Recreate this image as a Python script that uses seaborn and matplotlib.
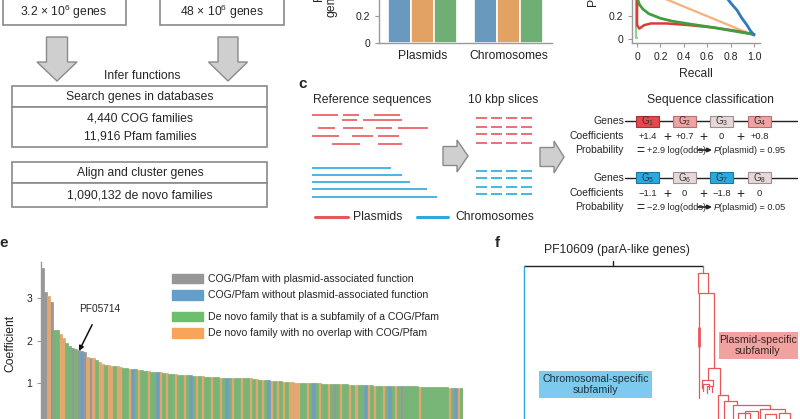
import numpy as np
import pandas as pd
import matplotlib
matplotlib.use("Agg")
import matplotlib.pyplot as plt
import seaborn as sns
from matplotlib.patches import Rectangle, Polygon, Patch

sns.set_theme(style="ticks")
plt.rcParams["font.family"] = ["Liberation Sans", "DejaVu Sans"]
plt.rcParams["mathtext.default"] = "regular"

W, H = 800, 419

# ── data ──────────────────────────────────────────────────────────────────────
# panel b: fraction of genes (bars are cut by the crop)
bar_groups = ["Plasmids", "Chromosomes"]
bar_methods = ["COG/Pfam", "De novo", "Combined"]
bar_values = [[0.68, 0.72, 0.75], [0.58, 0.62, 0.64]]
bar_colors = ["#5b9bcb", "#f7a24f", "#66b96a"]

# panel d: precision-recall curves
pr_blue_recall = [0.74, 0.78, 0.82, 0.855, 0.89, 0.94, 0.97, 1.0]
pr_blue_prec = [0.40, 0.34, 0.29, 0.25, 0.19, 0.12, 0.07, 0.035]
pr_orange_recall = [0.0, 0.003, 0.01, 0.5, 1.0]
pr_orange_prec = [0.28, 0.35, 0.446, 0.24, 0.03]
pr_green_recall = [0.0, 0.02, 0.05, 0.1, 0.2, 0.3, 0.45, 0.65, 0.85, 1.0]
pr_green_prec = [0.36, 0.30, 0.26, 0.22, 0.18, 0.155, 0.13, 0.10, 0.065, 0.04]
pr_red_recall = [0.0, 0.0, 0.02, 0.06, 0.12, 0.25, 0.45, 0.65, 0.85, 1.0]
pr_red_prec = [0.36, 0.12, 0.09, 0.12, 0.135, 0.135, 0.12, 0.10, 0.07, 0.04]
pr_pale_recall = [-0.01, -0.01, 0.0]
pr_pale_prec = [0.36, 0.01, 0.01]

# panel e: sorted coefficients of the top families
e_coef = [3.70, 3.15, 3.05, 2.90, 2.25, 2.24, 2.15, 2.05, 1.95, 1.88,
          1.83, 1.79, 1.77, 1.75, 1.72, 1.62, 1.60, 1.58, 1.55, 1.50,
          1.44, 1.43, 1.42, 1.41, 1.40, 1.39, 1.38, 1.36, 1.35, 1.34,
          1.33, 1.32, 1.31, 1.30, 1.29, 1.28, 1.27, 1.26, 1.26, 1.25,
          1.24, 1.23, 1.22, 1.21, 1.21, 1.20, 1.19, 1.19, 1.18, 1.18,
          1.17, 1.17, 1.16, 1.16, 1.15, 1.15, 1.14, 1.14, 1.14, 1.13,
          1.13, 1.13, 1.12, 1.12, 1.12, 1.12, 1.11, 1.11, 1.11, 1.11,
          1.10, 1.09, 1.08, 1.07, 1.06, 1.06, 1.05, 1.05, 1.04, 1.04,
          1.03, 1.03, 1.02, 1.02, 1.01, 1.01, 1.01, 1.00, 1.00, 1.00,
          0.99, 0.99, 0.99, 0.98, 0.98, 0.98, 0.98, 0.97, 0.97, 0.97,
          0.97, 0.97, 0.96, 0.96, 0.96, 0.96, 0.95, 0.95, 0.95, 0.95,
          0.94, 0.94, 0.94, 0.94, 0.94, 0.93, 0.93, 0.93, 0.93, 0.93,
          0.92, 0.92, 0.92, 0.92, 0.92, 0.91, 0.91, 0.91, 0.91, 0.91,
          0.90, 0.90, 0.90, 0.90, 0.90, 0.89, 0.89, 0.89, 0.89, 0.88]
# g = COG/Pfam plasmid fn, b = COG/Pfam other, n = de novo subfamily, o = de novo new
e_type = ("ggognnoonn" "gngbgogono" "onoonoonno" "bnonnonnbo" "nonnonnonb"
          "nononnonno" "nbnonnonno" "nononbonon" "onoooonnon" "bnonnongno"
          "nnononnbon" "onnonbnong" "nnnnnonnnn" "nnnnnonbon")
e_labels = {
    "g": "COG/Pfam with plasmid-associated function",
    "b": "COG/Pfam without plasmid-associated function",
    "n": "De novo family that is a subfamily of a COG/Pfam",
    "o": "De novo family with no overlap with COG/Pfam",
}
e_colors = {"g": "#979797", "b": "#649fc9", "n": "#6cbf6c", "o": "#f6a55b"}

# panel f: dendrogram links (xl, xr, top, left bottom, right bottom), pixels
f_links = [(698, 708, 273, 293, 293), (699, 714, 293, 398, 368),
           (708, 720, 368, 380, 395), (702, 713, 380, 388, 386),
           (703, 709, 384, 391, 389), (707, 712, 386, 393, 392),
           (718, 728, 395, 419, 401), (724, 737, 401, 419, 405),
           (733, 770, 405, 419, 409), (760, 785, 409, 419, 413),
           (738, 750, 413, 419, 419), (745, 758, 411, 419, 419),
           (765, 776, 414, 419, 419), (779, 790, 413, 419, 419)]

RED = "#e8585a"
BLUE = "#29a9e0"
GREY_FILL = "#cfcfcf"
GREY_EDGE = "#8a8a8a"


def px_axes(fig, x0, y0, x1, y1):
    return fig.add_axes([x0 / W, 1 - y1 / H, (x1 - x0) / W, (y1 - y0) / H])


def style_axis(ax):
    sns.despine(ax=ax)
    for s in ("left", "bottom"):
        ax.spines[s].set_color("#9a9a9a")
        ax.spines[s].set_linewidth(1.0)
    ax.tick_params(colors="#9a9a9a", labelcolor="#222222", labelsize=7.5,
                   length=3, width=0.8)
    ax.set_facecolor("none")


fig = plt.figure(figsize=(W / 100, H / 100), dpi=100)
ov = fig.add_axes([0, 0, 1, 1])
ov.set_xlim(0, W)
ov.set_ylim(H, 0)
ov.axis("off")


def rect(x0, y0, x1, y1, **kw):
    ov.add_patch(Rectangle((x0, y0), x1 - x0, y1 - y0, **kw))


def down_arrow(xc, y0, y1, yh, bw, hw):
    pts = [(xc - bw / 2, y0), (xc + bw / 2, y0), (xc + bw / 2, yh), (xc + hw / 2, yh),
           (xc, y1), (xc - hw / 2, yh), (xc - bw / 2, yh)]
    ov.add_patch(Polygon(pts, closed=True, fc=GREY_FILL, ec=GREY_EDGE, lw=1))


def right_arrow(x0, x1, xh, yc, bh, hh):
    pts = [(x0, yc - bh / 2), (xh, yc - bh / 2), (xh, yc - hh / 2), (x1, yc),
           (xh, yc + hh / 2), (xh, yc + bh / 2), (x0, yc + bh / 2)]
    ov.add_patch(Polygon(pts, closed=True, fc=GREY_FILL, ec=GREY_EDGE, lw=1))


# ── panel a: workflow ─────────────────────────────────────────────────────────
box_kw = dict(fc="white", ec=GREY_EDGE, lw=1.2)
rect(3, -5, 126, 25, **box_kw)
rect(160, -5, 284, 25, **box_kw)
ov.text(64, 12, r"3.2 × 10$^6$ genes", ha="center", va="center", fontsize=8.7)
ov.text(222, 12, r"48 × 10$^6$ genes", ha="center", va="center", fontsize=8.7)
down_arrow(57, 37, 81, 62, 21, 40)
down_arrow(228, 37, 81, 62, 20, 39)
ov.text(142, 76, "Infer functions", ha="center", va="center", fontsize=8.7)
rect(12, 86, 267, 107, **box_kw)
rect(12, 107, 267, 147, **box_kw)
ov.text(140, 97, "Search genes in databases", ha="center", va="center", fontsize=8.7)
ov.text(140, 118, "4,440 COG families", ha="center", va="center", fontsize=8.7)
ov.text(140, 136, "11,916 Pfam families", ha="center", va="center", fontsize=8.7)
rect(12, 162, 267, 183, **box_kw)
rect(12, 183, 267, 207, **box_kw)
ov.text(140, 173, "Align and cluster genes", ha="center", va="center", fontsize=8.7)
ov.text(140, 195, "1,090,132 de novo families", ha="center", va="center", fontsize=8.7)

# ── panel c: schematic ───────────────────────────────────────────────────────
ov.text(303, 84, "c", ha="center", va="center", fontsize=11, fontweight="bold")
ov.text(372, 100, "Reference sequences", ha="center", va="center", fontsize=8.7)
ov.text(503, 100, "10 kbp slices", ha="center", va="center", fontsize=8.7)
plasmid_segs = [(115, 312, 338), (115, 343, 359), (115, 374, 400),
                (120, 342, 357), (120, 363, 402),
                (128, 318, 335), (128, 343, 363), (128, 376, 392), (128, 398, 428),
                (136, 312, 339), (136, 352, 373), (136, 378, 399),
                (144, 332, 360), (144, 378, 402)]
for y, x0, x1 in plasmid_segs:
    ov.plot([x0, x1], [y, y], color=RED, lw=1.2, solid_capstyle="butt")
for y, x1 in [(168, 391), (175, 402), (182, 410), (189, 427), (197, 437)]:
    ov.plot([312, x1], [y, y], color=BLUE, lw=1.2, solid_capstyle="butt")
for y in [118, 127, 134, 143]:
    for x0 in [476, 491, 506, 521]:
        ov.plot([x0, x0 + 11], [y, y], color=RED, lw=1.2, solid_capstyle="butt")
for y in [171, 178, 187, 194]:
    for x0 in [476, 491, 506, 521]:
        ov.plot([x0, x0 + 11], [y, y], color=BLUE, lw=1.2, solid_capstyle="butt")
right_arrow(443, 468, 457, 156, 19, 32)
right_arrow(540, 564, 554, 157, 19, 32)
ov.plot([315, 348], [217, 217], color=RED, lw=2.2)
ov.text(353, 217, "Plasmids", ha="left", va="center", fontsize=8.7)
ov.plot([417, 448], [217, 217], color=BLUE, lw=2.2)
ov.text(455, 217, "Chromosomes", ha="left", va="center", fontsize=8.7)

ov.text(710, 100, "Sequence classification", ha="center", va="center", fontsize=8.7)
gene_x = [636, 673, 710, 748]
rows = [
    dict(y=121, fills=["#e5484d", "#efa3a3", "#e6d8d8", "#efa3a3"],
         edges=["#a83236", "#b87070", "#a09090", "#b87070"], labels=["1", "2", "3", "4"],
         coefs=["+1.4", "+0.7", "0", "+0.8"], odds="+2.9", p="0.95"),
    dict(y=178, fills=["#2aa9e0", "#e6d8d8", "#2aa9e0", "#e6d8d8"],
         edges=["#1b77a0", "#a09090", "#1b77a0", "#a09090"], labels=["5", "6", "7", "8"],
         coefs=["\u22121.1", "0", "\u22121.8", "0"], odds="\u22122.9", p="0.05"),
]
for r in rows:
    y = r["y"]
    ov.text(624, y, "Genes", ha="right", va="center", fontsize=7.5)
    ov.plot([625, 797], [y, y], color="#222222", lw=1.0, zorder=1)
    for x0, fc, ec, lab in zip(gene_x, r["fills"], r["edges"], r["labels"]):
        ov.add_patch(Rectangle((x0, y - 5.5), 23, 11, fc=fc, ec=ec, lw=0.8, zorder=2))
        ov.text(x0 + 11.5, y, "G$_{%s}$" % lab, ha="center", va="center", fontsize=7,
                color="#333333", zorder=3)
    yc = y + 15
    ov.text(624, yc, "Coefficients", ha="right", va="center", fontsize=7.5)
    for x0, c in zip(gene_x, r["coefs"]):
        ov.text(x0 + 11.5, yc, c, ha="center", va="center", fontsize=6.8)
    for xp in [667, 703, 740]:
        ov.text(xp, yc + 1, "+", ha="center", va="center", fontsize=10)
    yp = y + 29
    ov.text(624, yp, "Probability", ha="right", va="center", fontsize=7.5)
    ov.text(640, yp + 1, "=", ha="center", va="center", fontsize=10)
    ov.text(647, yp, r["odds"] + " log(odds)", ha="left", va="center", fontsize=6.6)
    ov.annotate("", xy=(712, yp), xytext=(698, yp),
                arrowprops=dict(arrowstyle="-|>", color="#222222", lw=1.2,
                                mutation_scale=6, shrinkA=0, shrinkB=0))
    ov.text(714, yp, "P", ha="left", va="center", fontsize=6.6, style="italic")
    ov.text(719, yp, "(plasmid) = " + r["p"], ha="left", va="center", fontsize=6.6)

# ── panel f: dendrogram ──────────────────────────────────────────────────────
ov.text(497, 243, "f", ha="center", va="center", fontsize=11, fontweight="bold")
ov.text(617, 250, "PF10609 (parA-like genes)", ha="center", va="center", fontsize=8.7)
ov.plot([524, 703], [266, 266], color="#222222", lw=1.0)
ov.plot([613, 613], [261, 266], color="#222222", lw=1.0)
ov.plot([524, 524], [266, 420], color=BLUE, lw=1.0)
ov.plot([703, 703], [266, 273], color=RED, lw=0.9)
for xl, xr, top, bl, br in f_links:
    ov.plot([xl, xl, xr, xr], [bl, top, top, br], color=RED, lw=0.9)
ov.plot([698.5, 698.5], [328, 346], color=RED, lw=2.0)
rect(719, 332, 798, 359, fc="#f2a1a1", ec="none")
ov.text(758, 345.5, "Plasmid-specific\nsubfamily", ha="center", va="center",
        fontsize=7.7, color="#3a2323", linespacing=1.1)
rect(539, 371, 652, 398, fc="#7ccbee", ec="none")
ov.text(595.5, 384.5, "Chromosomal-specific\nsubfamily", ha="center", va="center",
        fontsize=7.7, color="#1d3140", linespacing=1.1)

# ── panel b: bar chart ───────────────────────────────────────────────────────
df_b = pd.DataFrame([(g, m, v) for g, vals in zip(bar_groups, bar_values)
                     for m, v in zip(bar_methods, vals)],
                    columns=["group", "method", "value"])
ax_b = px_axes(fig, 379, 0, 552, 43)
sns.barplot(data=df_b, x="group", y="value", hue="method", order=bar_groups,
            hue_order=bar_methods, palette=bar_colors, width=0.8,
            edgecolor="white", linewidth=1.2, legend=False, ax=ax_b)
ax_b.set_ylim(0, 43 / 135)
ax_b.set_yticks([0, 0.2])
ax_b.set_yticklabels(["0", "0.2"])
ax_b.set_xlabel("")
ax_b.set_ylabel("")
style_axis(ax_b)
ax_b.tick_params(axis="x", length=0, labelsize=8.7, pad=5)
ov.text(331, 17, "genes", rotation=90, ha="center", va="bottom", fontsize=8.7)
ov.text(320, 2, "Fraction of", rotation=90, ha="center", va="bottom", fontsize=8.7)

# ── panel d: precision-recall ────────────────────────────────────────────────
ax_d = px_axes(fig, 632, 0, 760, 43)
ax_d.plot(pr_orange_recall, pr_orange_prec, color="#f5b27a", lw=1.6)
ax_d.plot(pr_pale_recall, pr_pale_prec, color="#8fd18f", lw=1.6)
ax_d.plot(pr_red_recall, pr_red_prec, color="#dd3b3b", lw=1.8)
ax_d.plot(pr_green_recall, pr_green_prec, color="#3f9f3f", lw=2.0)
ax_d.plot(pr_blue_recall, pr_blue_prec, color="#2c7bbd", lw=2.0)
ax_d.set_xlim(-0.043, 1.051)
ax_d.set_ylim(-0.035, 0.339)
ax_d.set_xticks([0, 0.2, 0.4, 0.6, 0.8, 1.0])
ax_d.set_xticklabels(["0", "0.2", "0.4", "0.6", "0.8", "1.0"])
ax_d.set_yticks([0, 0.2])
ax_d.set_yticklabels(["0", "0.2"])
style_axis(ax_d)
ax_d.set_xlabel("Recall", fontsize=8.7, labelpad=4)
ov.text(593, 6, "Precision", rotation=90, ha="center", va="bottom", fontsize=8.7)

# ── panel e: coefficients ────────────────────────────────────────────────────
df_e = pd.DataFrame({"rank": np.arange(len(e_coef)), "coef": e_coef,
                     "type": [e_labels[c] for c in e_type]})
ax_e = px_axes(fig, 41, 262, 463, 425.5)
sns.barplot(data=df_e, x="rank", y="coef", hue="type",
            palette={e_labels[k]: v for k, v in e_colors.items()},
            dodge=False, width=1.0, linewidth=0, legend=False, ax=ax_e)
for p in ax_e.patches:
    p.set_edgecolor(p.get_facecolor())
    p.set_linewidth(0.5)
ax_e.set_ylim(0, 3.85)
ax_e.set_yticks([1, 2, 3])
ax_e.set_xticks([])
ax_e.set_xlabel("")
style_axis(ax_e)
ax_e.set_ylabel("Coefficient", fontsize=8.7, color="#222222", labelpad=7)
ov.text(4, 243, "e", ha="center", va="center", fontsize=11, fontweight="bold")
ax_e.annotate("PF05714", xy=(79 / W, 1 - 351 / H), xycoords="figure fraction",
              xytext=(100 / W, 1 - 309 / H), textcoords="figure fraction",
              ha="center", va="center", fontsize=7.3,
              arrowprops=dict(arrowstyle="-|>", color="#111111", lw=1.1,
                              mutation_scale=7, shrinkA=6, shrinkB=0))
leg_kw = dict(loc="upper left", bbox_transform=fig.transFigure, frameon=False,
              fontsize=7.6, handlelength=2.9, handleheight=1.0, labelspacing=0.55,
              handletextpad=0.5, borderpad=0, borderaxespad=0)
leg1 = ax_e.legend(handles=[Patch(color=e_colors[k], label=e_labels[k]) for k in "gb"],
                   bbox_to_anchor=(172 / W, 1 - 274 / H), **leg_kw)
ax_e.add_artist(leg1)
ax_e.legend(handles=[Patch(color=e_colors[k], label=e_labels[k]) for k in "no"],
            bbox_to_anchor=(172 / W, 1 - 312 / H), **leg_kw)

fig.savefig("out.png", dpi=100)
